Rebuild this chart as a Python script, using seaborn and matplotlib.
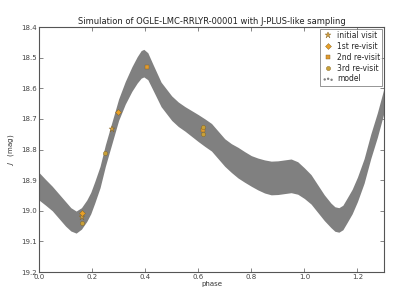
import matplotlib
matplotlib.use("Agg")
import matplotlib.pyplot as plt
import seaborn as sns

# ---------------------------------------
# data
# ---------------------------------------

model_phase = [0.0, 0.025, 0.05, 0.075, 0.1, 0.12, 0.14, 0.16, 0.18, 0.195,
               0.21, 0.23, 0.25, 0.275, 0.3, 0.325, 0.35, 0.37, 0.385, 0.395,
               0.41, 0.43, 0.46, 0.5, 0.525, 0.55, 0.575, 0.6, 0.625, 0.65,
               0.675, 0.7, 0.725, 0.75, 0.775, 0.8, 0.825, 0.85, 0.875, 0.9,
               0.925, 0.95, 0.975, 1.0, 1.025, 1.05, 1.075, 1.1, 1.115, 1.13,
               1.145, 1.16, 1.18, 1.2, 1.225, 1.25, 1.275, 1.3]
model_mag = [18.92, 18.94, 18.96, 18.985, 19.01, 19.028, 19.037, 19.025, 19.0, 18.975,
             18.94, 18.89, 18.82, 18.745, 18.67, 18.615, 18.57, 18.54, 18.522, 18.518,
             18.528, 18.565, 18.62, 18.665, 18.685, 18.70, 18.715, 18.73, 18.745, 18.76,
             18.785, 18.81, 18.828, 18.843, 18.857, 18.87, 18.88, 18.888, 18.893, 18.892,
             18.889, 18.886, 18.893, 18.91, 18.93, 18.96, 18.99, 19.015, 19.027, 19.03,
             19.022, 19.0, 18.97, 18.93, 18.87, 18.79, 18.72, 18.64]
model_spread = [0.045, 0.042, 0.04, 0.04, 0.04, 0.038, 0.036, 0.035, 0.035, 0.035,
                0.035, 0.035, 0.035, 0.035, 0.035, 0.037, 0.04, 0.043, 0.045, 0.045,
                0.044, 0.042, 0.04, 0.04, 0.04, 0.04, 0.042, 0.044, 0.045, 0.045,
                0.045, 0.045, 0.047, 0.05, 0.05, 0.05, 0.052, 0.054, 0.055, 0.055,
                0.055, 0.055, 0.053, 0.05, 0.048, 0.045, 0.042, 0.04, 0.04, 0.04,
                0.04, 0.04, 0.04, 0.04, 0.04, 0.04, 0.04, 0.04]

init_phase = [0.274, 0.163]
init_mag = [18.733, 19.022]
rev1_phase = [0.296, 0.163]
rev1_mag = [18.677, 19.007]
rev2_phase = [0.406, 0.619]
rev2_mag = [18.532, 18.735]
rev3_phase = [0.249, 0.163, 0.619, 0.619]
rev3_mag = [18.81, 19.04, 18.748, 18.725]

sns.set_theme(style="white")
plt.rcParams.update({
    "font.family": ["DejaVu Sans"],
    "xtick.direction": "in", "ytick.direction": "in",
    "xtick.top": True, "ytick.right": True,
    "xtick.bottom": True, "ytick.left": True,
    "xtick.major.size": 3, "ytick.major.size": 3,
    "xtick.major.width": 0.5, "ytick.major.width": 0.5,
    "xtick.color": "#555555", "ytick.color": "#555555",
    "axes.edgecolor": "#555555", "axes.linewidth": 0.8,
})

fig = plt.figure(figsize=(4, 3), dpi=100)
ax = fig.add_axes([0.0975, 0.0933, 0.8625, 0.8167])

lo = [m - s for m, s in zip(model_mag, model_spread)]
hi = [m + s for m, s in zip(model_mag, model_spread)]
ax.fill_between(model_phase, lo, hi, color="#808080", lw=0)
sns.scatterplot(x=model_phase, y=model_mag, ax=ax, color="#808080", s=3,
                edgecolor="none", label="model", zorder=1)

ax.plot(init_phase, init_mag, ls="none", marker="*", ms=5, color="#d4a040",
        mec="#806020", mew=0.3, label="initial visit", zorder=3)
ax.plot(rev1_phase, rev1_mag, ls="none", marker="D", ms=3, color="#e8a028",
        mec="#806020", mew=0.3, label="1st re-visit", zorder=3)
ax.plot(rev2_phase, rev2_mag, ls="none", marker="s", ms=3, color="#e09a30",
        mec="#806020", mew=0.3, label="2nd re-visit", zorder=3)
ax.plot(rev3_phase, rev3_mag, ls="none", marker="o", ms=3, color="#c8a038",
        mec="#806020", mew=0.3, label="3rd re-visit", zorder=3)

ax.set_xlim(0, 1.3)
ax.set_ylim(19.2, 18.4)
ax.set_xticks([0.0, 0.2, 0.4, 0.6, 0.8, 1.0, 1.2])
ax.set_yticks([18.4, 18.5, 18.6, 18.7, 18.8, 18.9, 19.0, 19.1, 19.2])
ax.tick_params(labelsize=5, pad=1.5, labelcolor="#444444")
ax.set_xlabel("phase", fontsize=5, labelpad=1, color="#333333")
ax.set_ylabel("$J$   (mag)", fontsize=5, labelpad=4, color="#333333")
ax.set_title("Simulation of OGLE-LMC-RRLYR-00001 with J-PLUS-like sampling",
             fontsize=6, pad=2, color="#222222")

handles, labels = ax.get_legend_handles_labels()
order = [1, 2, 3, 4, 0]
leg = ax.legend([handles[i] for i in order], [labels[i] for i in order],
                loc="upper right", fontsize=5.5, scatterpoints=3, numpoints=1,
                frameon=True, fancybox=False, borderpad=0.3, labelspacing=0.25,
                handletextpad=0.4, handlelength=1.5, borderaxespad=0.2)
leg.get_frame().set_edgecolor("#666666")
leg.get_frame().set_linewidth(0.6)

fig.savefig("out.png", dpi=100)
